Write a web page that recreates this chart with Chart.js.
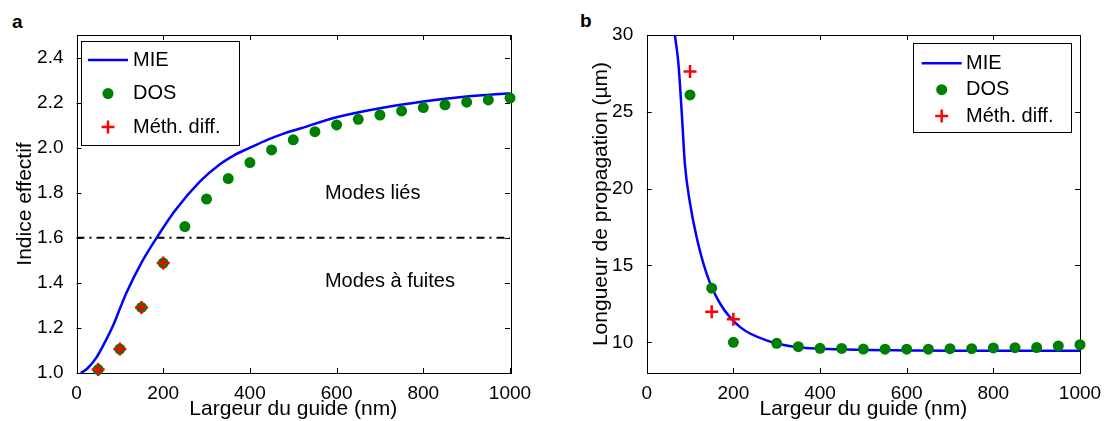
<!DOCTYPE html>
<html>
<head>
<meta charset="utf-8">
<script src="https://cdn.jsdelivr.net/npm/chart.js@4.4.0/dist/chart.umd.min.js"></script>
<style>
    body {
        margin: 0;
        width: 1106px;
        height: 421px;
        overflow: hidden;
        position: relative;
        background: #ffffff;
        font-family: "Liberation Sans", Arial, sans-serif;
    }
    canvas {
        position: absolute;
        top: 0;
    }
    #chartA { left: 0; }
    #chartB { left: 560px; }
    .panel {
        position: absolute;
        font-weight: bold;
        font-size: 19px;
        line-height: 19px;
        color: #000;
    }
</style>
</head>
<body>

<div class="panel" style="left:12px; top:12px;">a</div>
<div class="panel" style="left:580px; top:11px;">b</div>

<canvas id="chartA" width="560" height="421"></canvas>
<canvas id="chartB" width="546" height="421"></canvas>

<script>
/*
============================================================
Data - panel a (indice effectif)
============================================================
*/

const widthsDOS_a = [50, 100, 150, 200, 250, 300, 350, 400, 450, 500,
                     550, 600, 650, 700, 750, 800, 850, 900, 950, 1000];
const indexDOS = [1.015, 1.106, 1.291, 1.488, 1.650, 1.772, 1.863, 1.934, 1.990, 2.035,
                  2.071, 2.101, 2.126, 2.145, 2.163, 2.178, 2.190, 2.202, 2.212, 2.220];

const widthsDiff_a = [50, 100, 150, 200];
const indexDiff = [1.015, 1.106, 1.291, 1.488];

const widthsMIE_a = [10, 25, 45, 65, 85, 100, 115, 150, 185, 227, 285,
                     330, 362, 400, 440, 470, 516, 600, 700, 800, 900, 1000];
const indexMIE = [1.000, 1.020, 1.066, 1.135, 1.213, 1.285, 1.355, 1.490, 1.600, 1.720, 1.850,
                  1.925, 1.965, 2.000, 2.035, 2.057, 2.085, 2.135, 2.175, 2.205, 2.227, 2.242];

const cutoffWidths = [0, 1000];
const cutoffIndex = [1.6, 1.6];

/*
============================================================
Data - panel b (longueur de propagation)
============================================================
*/

const widthsDOS_b = [100, 150, 200, 300, 350, 400, 450, 500, 550,
                     600, 650, 700, 750, 800, 850, 900, 950, 1000];
const lengthDOS = [26.1, 13.52, 10.0, 9.93, 9.71, 9.61, 9.60, 9.56, 9.55,
                   9.55, 9.55, 9.58, 9.58, 9.63, 9.65, 9.66, 9.76, 9.84];

const widthsDiff_b = [100, 150, 200];
const lengthDiff = [27.62, 11.99, 11.5];

const widthsMIE_b = [65, 73, 81, 88, 100, 115, 138, 169, 215,
                     285, 340, 400, 500, 600, 700, 800, 900, 1000];
const lengthMIE = [30.0, 28.2, 24.9, 21.65, 19.05, 16.87, 14.49, 12.54, 11.0,
                   10.04, 9.71, 9.58, 9.50, 9.47, 9.45, 9.45, 9.45, 9.45];

/*
============================================================
Tick values
============================================================
*/

const xTickValues = [0, 200, 400, 600, 800, 1000];
const yTickValues_a = [1.0, 1.2, 1.4, 1.6, 1.8, 2.0, 2.2, 2.4];
const yTickValues_b = [10, 15, 20, 25, 30];

/*
============================================================
Defaults
============================================================
*/

Chart.defaults.font.family = '"Liberation Sans", Arial, sans-serif';
Chart.defaults.color = '#000000';

const BLUE = '#0000ff';
const GREEN = '#008000';
const RED = '#ff0000';

function toPoints(xs, ys) {
    return xs.map((x, i) => ({ x: x, y: ys[i] }));
}

/*
============================================================
Plugin: MATLAB style box with inward ticks
============================================================
*/

const matlabFrame = {
    id: 'matlabFrame',
    beforeDatasetsDraw(chart) {
        const { ctx, chartArea: a, scales } = chart;
        const len = 5;
        ctx.save();
        ctx.strokeStyle = '#000';
        ctx.lineWidth = 1;
        ctx.beginPath();
        scales.x.ticks.forEach(t => {
            const px = Math.round(scales.x.getPixelForValue(t.value)) + 0.5;
            ctx.moveTo(px, a.bottom);
            ctx.lineTo(px, a.bottom - len);
            ctx.moveTo(px, a.top);
            ctx.lineTo(px, a.top + len);
        });
        scales.y.ticks.forEach(t => {
            const py = Math.round(scales.y.getPixelForValue(t.value)) + 0.5;
            ctx.moveTo(a.left, py);
            ctx.lineTo(a.left + len, py);
            ctx.moveTo(a.right, py);
            ctx.lineTo(a.right - len, py);
        });
        ctx.stroke();
        ctx.strokeRect(Math.round(a.left) + 0.5, Math.round(a.top) + 0.5,
                       Math.round(a.right - a.left), Math.round(a.bottom - a.top));
        ctx.restore();
    }
};

/*
============================================================
Plugin: text notes placed in data coordinates
============================================================
*/

const notes = {
    id: 'notes',
    afterDatasetsDraw(chart, args, opts) {
        if (!opts.items) {
            return;
        }
        const { ctx, scales } = chart;
        ctx.save();
        ctx.fillStyle = '#000';
        ctx.font = '20px "Liberation Sans", Arial, sans-serif';
        ctx.textAlign = 'left';
        ctx.textBaseline = 'middle';
        opts.items.forEach(n => {
            ctx.fillText(n.text, scales.x.getPixelForValue(n.x), scales.y.getPixelForValue(n.y));
        });
        ctx.restore();
    }
};

/*
============================================================
Plugin: boxed legend inside the axes
============================================================
*/

const boxLegend = {
    id: 'boxLegend',
    afterDraw(chart, args, o) {
        const { ctx } = chart;
        ctx.save();
        ctx.fillStyle = '#fff';
        ctx.fillRect(o.x, o.y, o.w, o.h);
        ctx.strokeStyle = '#000';
        ctx.lineWidth = 1;
        ctx.strokeRect(o.x + 0.5, o.y + 0.5, o.w, o.h);

        ctx.font = '20px "Liberation Sans", Arial, sans-serif';
        ctx.textBaseline = 'middle';
        ctx.textAlign = 'left';

        const entries = chart.data.datasets.filter(d => d.label);
        entries.forEach((d, i) => {
            const cy = o.y + o.firstRow + i * o.rowGap;
            const mx = o.x + (o.lineX0 + o.lineX1) / 2;
            if (d.showLine) {
                ctx.strokeStyle = d.borderColor;
                ctx.lineWidth = d.borderWidth;
                ctx.beginPath();
                ctx.moveTo(o.x + o.lineX0, cy);
                ctx.lineTo(o.x + o.lineX1, cy);
                ctx.stroke();
            } else if (d.pointStyle === 'circle') {
                ctx.fillStyle = d.backgroundColor;
                ctx.beginPath();
                ctx.arc(mx, cy, d.pointRadius, 0, Math.PI * 2);
                ctx.fill();
            } else {
                ctx.strokeStyle = d.borderColor;
                ctx.lineWidth = d.borderWidth;
                ctx.beginPath();
                ctx.moveTo(mx - d.pointRadius, cy);
                ctx.lineTo(mx + d.pointRadius, cy);
                ctx.moveTo(mx, cy - d.pointRadius);
                ctx.lineTo(mx, cy + d.pointRadius);
                ctx.stroke();
            }
            ctx.fillStyle = '#000';
            ctx.fillText(d.label, o.x + o.textX, cy);
        });
        ctx.restore();
    }
};

/*
============================================================
Dataset builders
============================================================
*/

function mieSet(xs, ys) {
    return {
        label: 'MIE',
        data: toPoints(xs, ys),
        showLine: true,
        borderColor: BLUE,
        borderWidth: 2.5,
        pointRadius: 0,
        cubicInterpolationMode: 'monotone',
        order: 3,
        clip: false
    };
}

function dosSet(xs, ys) {
    return {
        label: 'DOS',
        data: toPoints(xs, ys),
        pointStyle: 'circle',
        pointRadius: 5.5,
        backgroundColor: GREEN,
        borderColor: GREEN,
        borderWidth: 0,
        order: 2,
        clip: false
    };
}

function diffSet(xs, ys) {
    return {
        label: 'Méth. diff.',
        data: toPoints(xs, ys),
        pointStyle: 'cross',
        pointRadius: 6.5,
        backgroundColor: RED,
        borderColor: RED,
        borderWidth: 2.5,
        order: 1,
        clip: false
    };
}

function xScale() {
    return {
        type: 'linear',
        min: 0,
        max: 1000,
        afterBuildTicks: s => { s.ticks = xTickValues.map(v => ({ value: v })); },
        afterFit: s => { s.height = 48; },
        grid: { display: false },
        border: { display: false },
        ticks: {
            padding: 1,
            font: { size: 19 },
            maxRotation: 0,
            autoSkip: false,
            callback: v => String(v)
        },
        title: {
            display: true,
            text: 'Largeur du guide (nm)',
            font: { size: 21, lineHeight: 1 },
            padding: { top: 0, bottom: 1 }
        }
    };
}

/*
============================================================
Panel a
============================================================
*/

new Chart(document.getElementById('chartA'), {
    type: 'scatter',
    data: {
        datasets: [
            mieSet(widthsMIE_a, indexMIE),
            dosSet(widthsDOS_a, indexDOS),
            diffSet(widthsDiff_a, indexDiff),
            {
                data: toPoints(cutoffWidths, cutoffIndex),
                showLine: true,
                borderColor: '#000',
                borderWidth: 2,
                borderDash: [8, 5, 2, 5],
                pointRadius: 0,
                order: 4
            }
        ]
    },
    options: {
        responsive: false,
        animation: false,
        events: [],
        layout: { padding: { top: 35, right: 50, left: 0, bottom: 0 } },
        plugins: {
            legend: { display: false },
            tooltip: { enabled: false },
            notes: {
                items: [
                    { text: 'Modes liés', x: 573, y: 1.797 },
                    { text: 'Modes à fuites', x: 573, y: 1.405 }
                ]
            },
            boxLegend: {
                x: 81, y: 41, w: 158, h: 104,
                firstRow: 19, rowGap: 33.5,
                lineX0: 7, lineX1: 47, textX: 52
            }
        },
        scales: {
            x: xScale(),
            y: {
                type: 'linear',
                min: 1.0,
                max: 2.5,
                afterBuildTicks: s => { s.ticks = yTickValues_a.map(v => ({ value: v })); },
                afterFit: s => { s.width = 76.5; },
                grid: { display: false },
                border: { display: false },
                ticks: {
                    padding: 5,
                    font: { size: 19 },
                    callback: v => Number(v).toFixed(1)
                },
                title: {
                    display: true,
                    text: 'Indice effectif',
                    font: { size: 21, lineHeight: 1 },
                    padding: { top: 15, bottom: 0 }
                }
            }
        }
    },
    plugins: [matlabFrame, notes, boxLegend]
});

/*
============================================================
Panel b
============================================================
*/

new Chart(document.getElementById('chartB'), {
    type: 'scatter',
    data: {
        datasets: [
            mieSet(widthsMIE_b, lengthMIE),
            dosSet(widthsDOS_b, lengthDOS),
            diffSet(widthsDiff_b, lengthDiff)
        ]
    },
    options: {
        responsive: false,
        animation: false,
        events: [],
        layout: { padding: { top: 35, right: 26, left: 0, bottom: 0 } },
        plugins: {
            legend: { display: false },
            tooltip: { enabled: false },
            boxLegend: {
                x: 353, y: 43, w: 158, h: 89,
                firstRow: 20.3, rowGap: 26.4,
                lineX0: 8.7, lineX1: 48.7, textX: 53
            }
        },
        scales: {
            x: xScale(),
            y: {
                type: 'linear',
                min: 8,
                max: 30,
                afterBuildTicks: s => { s.ticks = yTickValues_b.map(v => ({ value: v })); },
                afterFit: s => { s.width = 86.7; },
                grid: { display: false },
                border: { display: false },
                ticks: { padding: 5.5, font: { size: 19 }, callback: v => String(v) },
                title: {
                    display: true,
                    text: 'Longueur de propagation (µm)',
                    font: { size: 21, lineHeight: 1 },
                    padding: { top: 31, bottom: 0 }
                }
            }
        }
    },
    plugins: [matlabFrame, boxLegend]
});
</script>
</body>
</html>
